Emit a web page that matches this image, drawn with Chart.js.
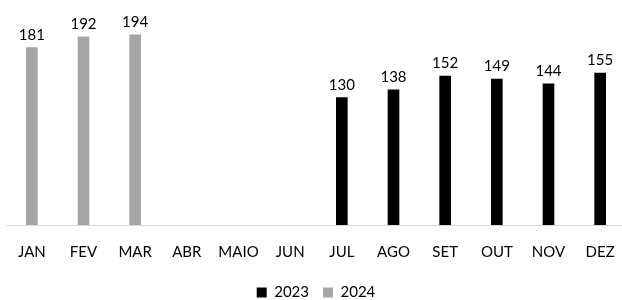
<!DOCTYPE html>
<html>
<head>
<meta charset="utf-8">
<script src="https://cdn.jsdelivr.net/npm/chart.js@4/dist/chart.umd.min.js"></script>
<style>
  html,body{margin:0;padding:0;background:#fff;overflow:hidden;}
  #wrap{position:relative;width:626px;height:310px;}
</style>
</head>
<body>
<div id="wrap"><canvas id="c"></canvas></div>
<script>
// ── DATA ──────────────────────────────────────────────────────────────────────
const MESES=['JAN','FEV','MAR','ABR','MAIO','JUN','JUL','AGO','SET','OUT','NOV','DEZ'];
const V2023=[null,null,null,null,null,null,130,138,152,149,144,155];
const V2024=[181,192,194,null,null,null,null,null,null,null,null,null];
const SERIES=['2023','2024'];

const FONT='Lato, "Open Sans", sans-serif';

// value labels above each bar
const valLbl={
  id:'valLbl',
  afterDatasetsDraw(ch){
    const c=ch.ctx;
    c.save();
    c.font='15px '+FONT;
    c.fillStyle='#000';
    c.textAlign='center';
    c.textBaseline='alphabetic';
    ch.data.datasets.forEach((ds,i)=>{
      ch.getDatasetMeta(i).data.forEach((b,j)=>{
        const v=ds.data[j];
        if(v==null)return;
        c.fillText(v,b.x,b.y-8);
      });
    });
    c.restore();
  }
};

new Chart(document.getElementById('c'),{
  type:'bar',
  data:{labels:MESES,datasets:[
    {label:SERIES[0],data:V2023,backgroundColor:'#000000',barThickness:11,grouped:false},
    {label:SERIES[1],data:V2024,backgroundColor:'#a5a5a5',barThickness:11,grouped:false}
  ]},
  options:{
    responsive:true,maintainAspectRatio:false,animation:false,
    layout:{padding:{left:6,right:0,top:29,bottom:0}},
    plugins:{
      tooltip:{enabled:false},
      legend:{position:'bottom',
        labels:{color:'#000',font:{family:FONT,size:15},boxWidth:10,boxHeight:10,padding:14}}
    },
    scales:{
      x:{grid:{display:false},border:{color:'#d9d9d9',width:1},
         ticks:{color:'#000',font:{family:FONT,size:15},padding:10,maxRotation:0}},
      y:{display:false,min:0,max:200}
    }
  },
  plugins:[valLbl]
});
</script>
</body>
</html>
